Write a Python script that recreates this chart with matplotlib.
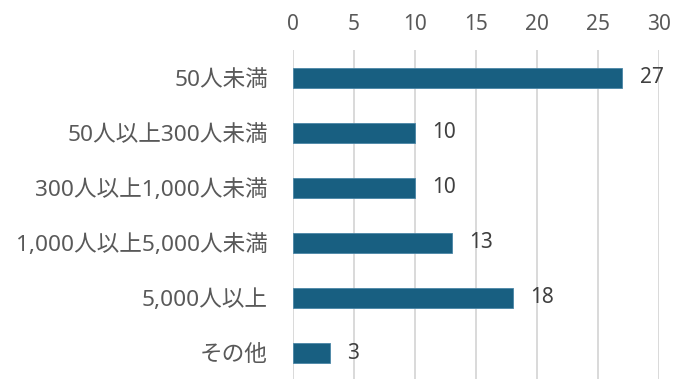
import matplotlib.pyplot as plt

plt.rcParams['font.family'] = ['Noto Sans', 'Noto Sans CJK JP']

# 従業員規模別の回答数
categories = ['50人未満', '50人以上300人未満', '300人以上1,000人未満',
              '1,000人以上5,000人未満', '5,000人以上', 'その他']
counts = [27, 10, 10, 13, 18, 3]
x_ticks = [0, 5, 10, 15, 20, 25, 30]

bar_color = '#185f81'
text_color = '#595959'
grid_color = '#d9d9d9'

fig = plt.figure(figsize=(6.88, 3.79), dpi=100)
ax = fig.add_axes([0.4259, -0.004, 0.532, 0.871])

y = list(range(len(categories)))
ax.barh(y, counts, height=0.35, color=bar_color, edgecolor='#4a86a6',
        linewidth=0.6, zorder=3)

for yi, v in zip(y, counts):
    ax.text(v + 1.4, yi, str(v), va='center', ha='left',
            fontsize=15, color='#404040')

ax.set_yticks(y)
ax.set_yticklabels(categories, fontsize=16.3, color=text_color)
ax.set_ylim(len(categories) - 0.5, -0.5)

ax.set_xlim(0, 30)
ax.set_xticks(x_ticks)
ax.set_xticklabels([str(t) for t in x_ticks], fontsize=15, color=text_color)
ax.xaxis.tick_top()
ax.tick_params(axis='both', length=0)
ax.tick_params(axis='x', pad=11)
ax.tick_params(axis='y', pad=18)

ax.grid(True, axis='x', color=grid_color, linewidth=1.4, zorder=0)
for s in ax.spines.values():
    s.set_visible(False)

fig.savefig('out.png', dpi=100)
